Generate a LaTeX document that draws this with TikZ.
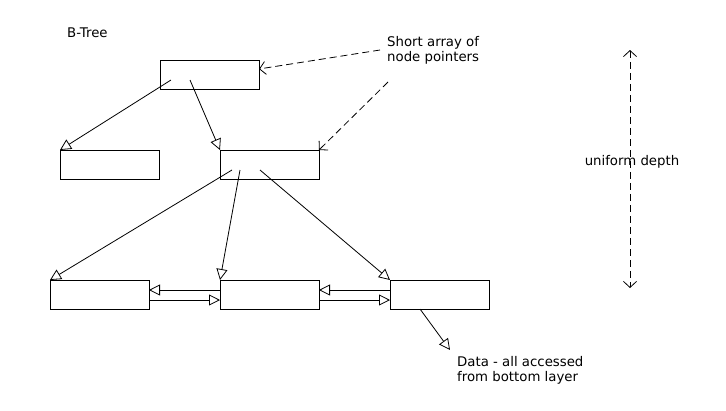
\documentclass[tikz,border=0pt]{standalone}
\usepackage{fontspec}
\setmainfont{DejaVu Sans}
\usetikzlibrary{arrows.meta,calc}
\begin{document}
\begin{tikzpicture}[x=1pt,y=-1pt,
  box/.style={draw,line width=0.9pt,minimum width=99pt,minimum height=29pt,inner sep=0pt,outer sep=0pt,anchor=north west},
  ptr/.style={draw,line width=0.8pt,-{Triangle[open,length=11pt,width=11pt]}},
  note/.style={draw,line width=0.8pt,dash pattern=on 7pt off 4pt,-{Straight Barb[length=6pt,width=13pt]}},
  lbl/.style={font=\fontsize{13.3}{15.5}\selectfont,inner sep=0pt,align=left}]
\useasboundingbox (0,0) rectangle (726,410);
\node[box] (root) at (160,60) {};
\node[box] (lc) at (60,150) {};
\node[box] (mc) at (220,150) {};
\node[box] (bl) at (50,280) {};
\node[box] (bm) at (220,280) {};
\node[box] (br) at (390,280) {};
\node[lbl,anchor=west] (title) at (67,33) {B-Tree};
\node[lbl,anchor=north west] (short) at (387,36) {Short array of\\node pointers};
\node[lbl,anchor=north west] (data) at (457,356) {Data - all accessed\\from bottom layer};
\node[lbl] (depth) at (632,162) {uniform depth};
\coordinate (dtop) at (630,50);
\coordinate (dbot) at (630,288);
\coordinate (dataend) at (450,350);
\coordinate (s1) at (380,50);
\coordinate (s2) at (388,82);
% tree pointers
\draw[ptr] ([shift={(11,20)}]root.north west) -- (lc.north west);
\draw[ptr] ([shift={(30,20)}]root.north west) -- (mc.north west);
\draw[ptr] ([shift={(12,20)}]mc.north west) -- (bl.north west);
\draw[ptr] ([shift={(20,20)}]mc.north west) -- (bm.north west);
\draw[ptr] ([shift={(40,20)}]mc.north west) -- (br.north west);
% leaf links
\draw[ptr] ([shift={(0,10)}]bm.north west) -- ([shift={(0,10)}]bl.north east);
\draw[ptr] ([shift={(0,20)}]bl.north east) -- ([shift={(0,20)}]bm.north west);
\draw[ptr] ([shift={(0,10)}]br.north west) -- ([shift={(0,10)}]bm.north east);
\draw[ptr] ([shift={(0,20)}]bm.north east) -- ([shift={(0,20)}]br.north west);
\draw[ptr] ([shift={(30,29)}]br.north west) -- (dataend);
% notes
\draw[note] (s1) -- ([shift={(0,9)}]root.north east);
\draw[note] (s2) -- (mc.north east);
\draw[note,{Straight Barb[length=6pt,width=13pt]}-{Straight Barb[length=6pt,width=13pt]}] (dtop) -- (dbot);
\end{tikzpicture}
\end{document}
